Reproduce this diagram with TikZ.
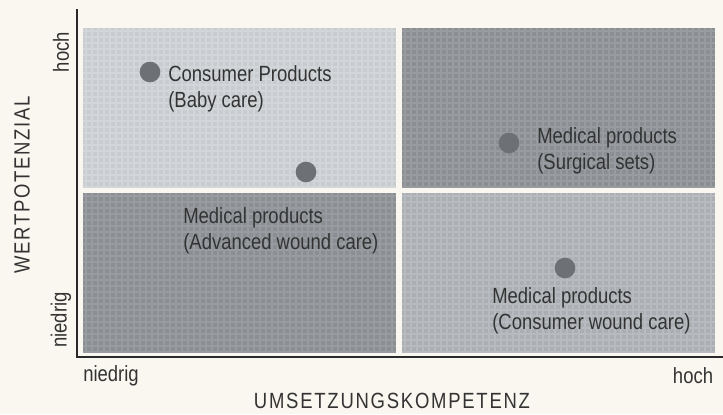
\documentclass[tikz,border=0pt]{standalone}
\usepackage{fontspec}
\setmainfont[FakeStretch=0.84]{Liberation Sans}
\definecolor{bg}{HTML}{FAF7F0}
\definecolor{axis}{HTML}{2A2A2A}
\definecolor{txt}{HTML}{333333}
\definecolor{lightq}{HTML}{C8CBCF}
\definecolor{lightl}{HTML}{D3D6D9}
\definecolor{darkq}{HTML}{8B8F94}
\definecolor{darkl}{HTML}{989BA0}
\definecolor{midq}{HTML}{ABAFB3}
\definecolor{midl}{HTML}{B7BABE}
\definecolor{dotc}{HTML}{6D7075}
\tikzset{
  dotnode/.style={circle,fill=dotc,inner sep=0pt,minimum size=15.5pt},
  lbl/.style={text=txt,font=\fontsize{16.5}{19.5}\selectfont,align=left,inner sep=0pt},
  axlbl/.style={text=txt,font=\fontsize{16.5}{19}\selectfont,inner sep=0pt},
  axline/.style={draw=axis,line width=1.1pt}
}
\newcommand{\quadr}[6]{%
  \fill[#5] (#1,#2) rectangle (#3,#4);
  \begin{scope}
    \clip (#1,#2) rectangle (#3,#4);
    \pgfmathsetmacro{\xa}{#1+3}
    \pgfmathsetmacro{\ya}{#2+3}
    \foreach \k in {0,...,55} {
      \draw[#6,line width=1.2pt] ({\xa+6*\k},#2) -- ({\xa+6*\k},#4);
    }
    \foreach \k in {0,...,28} {
      \draw[#6,line width=1.2pt] (#1,{\ya+6*\k}) -- (#3,{\ya+6*\k});
    }
  \end{scope}
}
\begin{document}
\begin{tikzpicture}[x=0.75pt,y=-0.75pt]
\fill[bg] (0,0) rectangle (723,414);
\useasboundingbox (0,0) rectangle (723,414);
% quadrants
\quadr{83}{28}{396}{188}{lightq}{lightl}
\quadr{402}{28}{715}{188}{darkq}{darkl}
\quadr{83}{193}{396}{352}{darkq}{darkl}
\quadr{402}{193}{715}{352}{midq}{midl}
% axes
\coordinate (ytop) at (77,9);
\coordinate (orig) at (77,357);
\coordinate (xend) at (723,357);
\draw[axline] (ytop) -- (orig) -- (xend);
% dots
\node[dotnode] (d1) at (150,72) {};
\node[dotnode] (d2) at (306,172) {};
\node[dotnode] (d3) at (509,143) {};
\node[dotnode] (d4) at (565,268) {};
% labels
\node[lbl,anchor=west] (t1) at (168,89) {Consumer Products\\(Baby care)};
\node[lbl,anchor=west] (t2) at (183,231) {Medical products\\(Advanced wound care)};
\node[lbl,anchor=west] (t3) at (537,151) {Medical products\\(Surgical sets)};
\node[lbl,anchor=west] (t4) at (492,311) {Medical products\\(Consumer wound care)};
% axis labels
\node[axlbl] (xl) at (111,376) {niedrig};
\node[axlbl] (xh) at (693,376) {hoch};
\node[axlbl,rotate=90] (yl) at (61,320) {niedrig};
\node[axlbl,rotate=90] (yh) at (61,52) {hoch};
\node[axlbl,font=\fontsize{16.5}{19}\selectfont\addfontfeature{LetterSpace=8}] (xt) at (392,401) {UMSETZUNGSKOMPETENZ};
\node[axlbl,rotate=90,font=\fontsize{16.5}{19}\selectfont\addfontfeature{LetterSpace=8}] (yt) at (22,185) {WERTPOTENZIAL};
\end{tikzpicture}
\end{document}
